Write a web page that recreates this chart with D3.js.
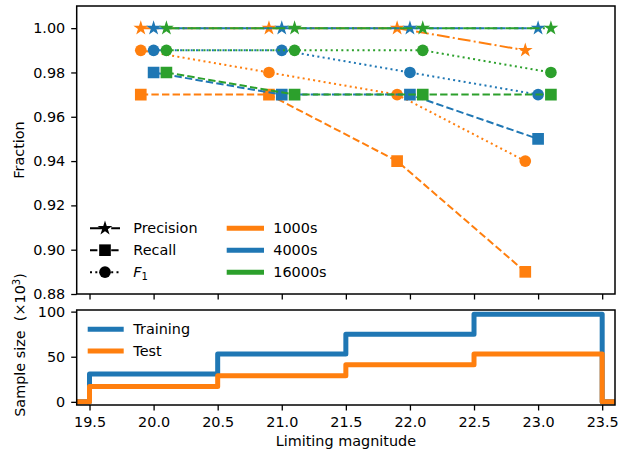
<!DOCTYPE html>
<html>
<head>
<meta charset="utf-8">
<script src="https://cdn.jsdelivr.net/npm/d3@7"></script>
<style>
  html, body { margin: 0; padding: 0; background: #fff; }
  svg { display: block; font-family: "DejaVu Sans", sans-serif; }
  .pre { white-space: pre; }
</style>
</head>
<body>
<svg id="chart" width="628" height="452"></svg>
<script>
// ---- data ----
const sizes = ["1000s", "4000s", "16000s"];
const magnitudes = [20, 21, 22, 23];
const sizeOffsets = [-0.1, 0, 0.1];           // horizontal dodge per training size (mag)

const precision1000 = [1.00, 1.00, 1.00, 0.99];
const precision4000 = [1.00, 1.00, 1.00, 1.00];
const precision16000 = [1.00, 1.00, 1.00, 1.00];

const recall1000 = [0.97, 0.97, 0.94, 0.89];
const recall4000 = [0.98, 0.97, 0.97, 0.95];
const recall16000 = [0.98, 0.97, 0.97, 0.97];

const f1_1000 = [0.99, 0.98, 0.97, 0.94];
const f1_4000 = [0.99, 0.99, 0.98, 0.97];
const f1_16000 = [0.99, 0.99, 0.99, 0.98];

const binEdges = [19.5, 20.5, 21.5, 22.5, 23.5];
const trainingCounts = [31, 53, 75, 97];      // ×10^3
const testCounts = [17, 29, 41, 53];          // ×10^3

const xTicks = [19.5, 20.0, 20.5, 21.0, 21.5, 22.0, 22.5, 23.0, 23.5];
const fracTicks = [0.88, 0.90, 0.92, 0.94, 0.96, 0.98, 1.00];
const sampleTicks = [0, 50, 100];

// ---- styling ----
const colors = { "1000s": "#ff7f0e", "4000s": "#1f77b4", "16000s": "#2ca02c" };
const FONT = 14.4;
const LW = 2;
const dashes = {
  precision: [12.8, 3.2, 2, 3.2],
  recall: [7.4, 3.2],
  f1: [2, 3.3]
};
const symbols = {
  precision: d3.symbol().type(d3.symbolStar).size(68),
  recall: d3.symbol().type(d3.symbolSquare).size(136),
  f1: d3.symbol().type(d3.symbolCircle).size(107)
};

const svg = d3.select("#chart");
const L = 76.7, R = 615;
const top1 = 6, bot1 = 294;
const top2 = 310, bot2 = 405;

const x = d3.scaleLinear().domain([19.4, 23.6]).range([L, R]);
const yF = d3.scaleLinear().domain([0.88, 1.01]).range([bot1, top1]);
const yS = d3.scaleLinear().domain([-3.5, 101.8]).range([bot2, top2]);

const defs = svg.append("defs");
defs.append("clipPath").attr("id", "clipTop")
  .append("rect").attr("x", L).attr("y", top1).attr("width", R - L).attr("height", bot1 - top1);
defs.append("clipPath").attr("id", "clipBot")
  .append("rect").attr("x", L).attr("y", top2).attr("width", R - L).attr("height", bot2 - top2);

function styleAxis(g) {
  g.select(".domain").remove();
  g.selectAll(".tick line").attr("stroke", "#000").attr("stroke-width", 1.3);
  g.selectAll(".tick text").attr("fill", "#000").attr("font-size", FONT)
    .attr("font-family", "DejaVu Sans, sans-serif");
}

// ---- top panel: precision / recall / F1 ----
const seriesBySize = {
  "1000s": { precision: precision1000, recall: recall1000, f1: f1_1000 },
  "4000s": { precision: precision4000, recall: recall4000, f1: f1_4000 },
  "16000s": { precision: precision16000, recall: recall16000, f1: f1_16000 }
};
const metrics = ["precision", "recall", "f1"];

const plotTop = svg.append("g").attr("clip-path", "url(#clipTop)");
const line = d3.line().x(d => x(d[0])).y(d => yF(d[1]));

sizes.forEach((s, si) => {
  metrics.forEach(m => {
    const pts = magnitudes.map((mag, i) => [mag + sizeOffsets[si], seriesBySize[s][m][i]]);
    plotTop.append("path")
      .attr("d", line(pts))
      .attr("fill", "none")
      .attr("stroke", colors[s])
      .attr("stroke-width", LW)
      .attr("stroke-dasharray", dashes[m].join(","));
    plotTop.selectAll(null).data(pts).enter().append("path")
      .attr("d", symbols[m])
      .attr("transform", d => `translate(${x(d[0])},${yF(d[1])})`)
      .attr("fill", colors[s]);
  });
});

svg.append("g").attr("transform", `translate(0,${bot1})`)
  .call(d3.axisBottom(x).tickValues(xTicks).tickSize(5.5).tickFormat(""))
  .call(styleAxis);
svg.append("g").attr("transform", `translate(${L},0)`)
  .call(d3.axisLeft(yF).tickValues(fracTicks).tickSize(5.5).tickPadding(6).tickFormat(d3.format(".2f")))
  .call(styleAxis);

svg.append("rect").attr("x", L).attr("y", top1).attr("width", R - L).attr("height", bot1 - top1)
  .attr("fill", "none").attr("stroke", "#000").attr("stroke-width", 1.5);

svg.append("text")
  .attr("transform", `translate(19,${(top1 + bot1) / 2}) rotate(-90)`)
  .attr("text-anchor", "middle").attr("dy", "0.36em")
  .attr("font-size", FONT).text("Fraction");

// legend: metric styles (black) and size colours
const legendMetrics = [
  { m: "precision", label: "Precision" },
  { m: "recall", label: "Recall" },
  { m: "f1", label: null }
];
const legRowY = [228.3, 250.2, 272.2];
legendMetrics.forEach((d, i) => {
  const yy = legRowY[i];
  svg.append("line").attr("x1", 90).attr("x2", 120).attr("y1", yy).attr("y2", yy)
    .attr("stroke", "#000").attr("stroke-width", LW)
    .attr("stroke-dasharray", dashes[d.m].join(","));
  svg.append("path").attr("d", symbols[d.m]).attr("transform", `translate(105,${yy})`).attr("fill", "#000");
  const t = svg.append("text").attr("x", 133.3).attr("y", yy).attr("dy", "0.36em").attr("font-size", FONT);
  if (d.label) {
    t.text(d.label);
  } else {
    t.append("tspan").attr("font-style", "italic").text("F");
    t.append("tspan").attr("font-size", 10).attr("dy", "0.3em").text("1");
  }
});
sizes.forEach((s, i) => {
  const yy = legRowY[i];
  svg.append("line").attr("x1", 226.7).attr("x2", 264).attr("y1", yy).attr("y2", yy)
    .attr("stroke", colors[s]).attr("stroke-width", 5);
  svg.append("text").attr("x", 273.3).attr("y", yy).attr("dy", "0.36em")
    .attr("font-size", FONT).text(s);
});

// ---- bottom panel: sample sizes ----
function stepPoints(counts) {
  const pts = [[19.0, 0]];
  counts.forEach((c, i) => pts.push([binEdges[i], c]));
  pts.push([binEdges[binEdges.length - 1], 0]);
  pts.push([24.0, 0]);
  return pts;
}
const stepLine = d3.line().x(d => x(d[0])).y(d => yS(d[1])).curve(d3.curveStepAfter);
const plotBot = svg.append("g").attr("clip-path", "url(#clipBot)");
[{ counts: trainingCounts, color: colors["4000s"] }, { counts: testCounts, color: colors["1000s"] }]
  .forEach(d => {
    plotBot.append("path").attr("d", stepLine(stepPoints(d.counts)))
      .attr("fill", "none").attr("stroke", d.color).attr("stroke-width", 5)
      .attr("stroke-linejoin", "round");
  });

svg.append("g").attr("transform", `translate(0,${bot2})`)
  .call(d3.axisBottom(x).tickValues(xTicks).tickSize(5.5).tickPadding(6).tickFormat(d3.format(".1f")))
  .call(styleAxis);
svg.append("g").attr("transform", `translate(${L},0)`)
  .call(d3.axisLeft(yS).tickValues(sampleTicks).tickSize(5.5).tickPadding(6))
  .call(styleAxis);

svg.append("rect").attr("x", L).attr("y", top2).attr("width", R - L).attr("height", bot2 - top2)
  .attr("fill", "none").attr("stroke", "#000").attr("stroke-width", 1.5);

const bl = [{ label: "Training", color: colors["4000s"], y: 329.3 }, { label: "Test", color: colors["1000s"], y: 351 }];
bl.forEach(d => {
  svg.append("line").attr("x1", 87.7).attr("x2", 123.7).attr("y1", d.y).attr("y2", d.y)
    .attr("stroke", d.color).attr("stroke-width", 5);
  svg.append("text").attr("x", 133.3).attr("y", d.y).attr("dy", "0.36em")
    .attr("font-size", FONT).text(d.label);
});

const sl = svg.append("text").attr("class", "pre")
  .attr("transform", `translate(20,345) rotate(-90)`)
  .attr("text-anchor", "middle").attr("dy", "0.36em").attr("font-size", FONT);
sl.append("tspan").text("Sample size  (×10");
sl.append("tspan").attr("font-size", 10).attr("dy", "-0.55em").text("3");
sl.append("tspan").attr("dy", "0.4em").text(")");

svg.append("text").attr("x", (L + R) / 2).attr("y", 446).attr("text-anchor", "middle")
  .attr("font-size", FONT).text("Limiting magnitude");
</script>
</body>
</html>
